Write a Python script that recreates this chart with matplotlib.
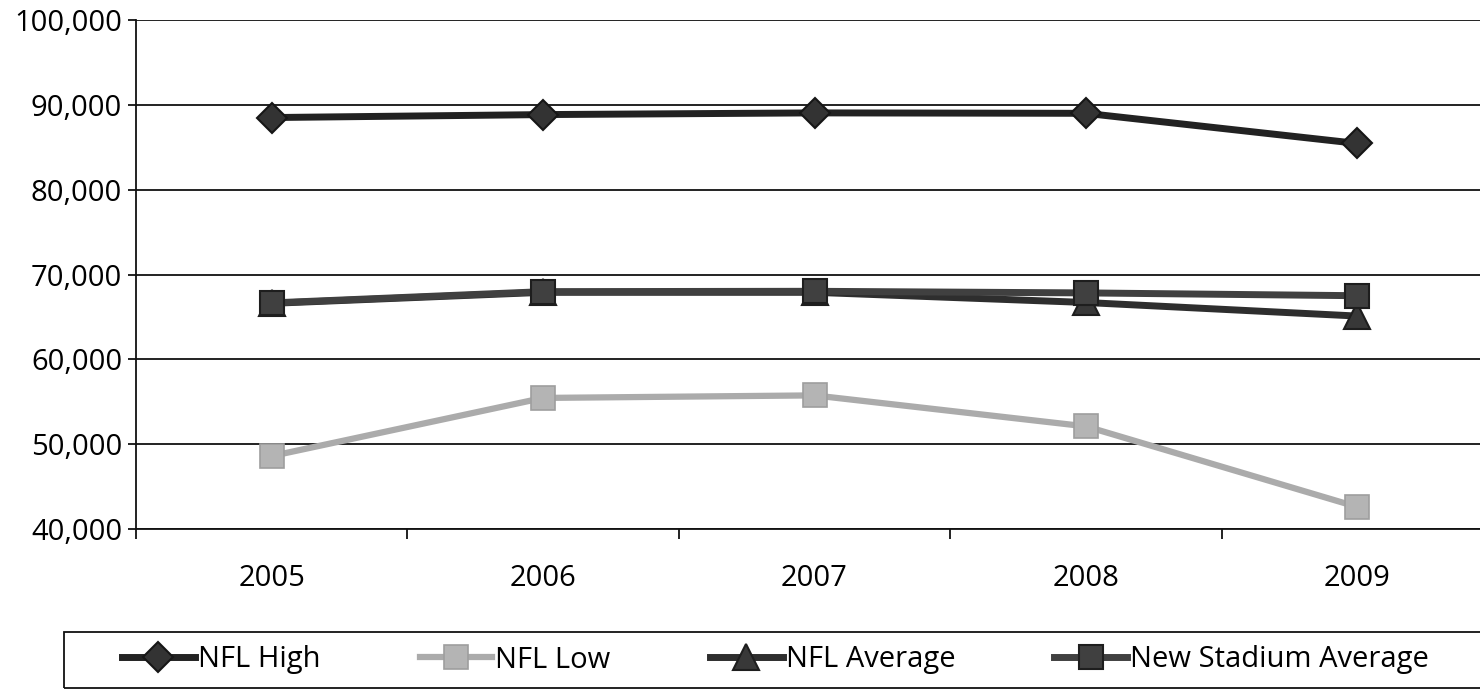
import matplotlib
matplotlib.use("Agg")
import matplotlib.pyplot as plt
from matplotlib.patches import Rectangle
from matplotlib.ticker import FuncFormatter, FixedLocator

# --- data ---
years = ["2005", "2006", "2007", "2008", "2009"]
nfl_high = [88500, 88850, 89050, 89000, 85450]
nfl_low = [48600, 55450, 55750, 52100, 42600]
nfl_average = [66600, 67900, 67900, 66700, 65100]
new_stadium_average = [66650, 67980, 68020, 67830, 67500]

plt.rcParams["font.family"] = ["Open Sans", "DejaVu Sans"]

fig = plt.figure(figsize=(14.8, 6.9), dpi=100)
ax = fig.add_axes([136 / 1480, 1 - 529 / 690, (1493 - 136) / 1480, (529 - 20) / 690])

x = list(range(len(years)))

ax.plot(x, nfl_high, color="#222222", lw=5, marker="D", ms=15,
        mfc="#333333", mec="#161616", mew=1.5, label="NFL High", zorder=4)
ax.plot(x, nfl_low, color="#ababab", lw=4.5, marker="s", ms=17,
        mfc="#b4b4b4", mec="#9e9e9e", mew=1.2, label="NFL Low", zorder=4)
ax.plot(x, nfl_average, color="#2e2e2e", lw=5, marker="^", ms=19,
        mfc="#383838", mec="#1e1e1e", mew=1.5, label="NFL Average", zorder=3)
ax.plot(x, new_stadium_average, color="#404040", lw=5, marker="s", ms=17,
        mfc="#404040", mec="#1e1e1e", mew=1.5, label="New Stadium Average", zorder=5)

ax.set_xlim(-0.5, len(years) - 0.5)
ax.set_ylim(40000, 100000)
ax.set_yticks(range(40000, 100001, 10000))
ax.yaxis.set_major_formatter(FuncFormatter(lambda v, p: f"{int(v):,}"))
ax.grid(axis="y", color="#111111", lw=1.3)
ax.set_axisbelow(True)

ax.set_xticks(x)
ax.set_xticklabels(years)
ax.xaxis.set_minor_locator(FixedLocator([i - 0.5 for i in range(len(years) + 1)]))
ax.tick_params(axis="x", which="major", length=0, pad=25, labelsize=21)
ax.tick_params(axis="x", which="minor", length=7, width=1.3, direction="out", color="#111111")
ax.tick_params(axis="y", length=6, width=1.3, pad=4, labelsize=21, color="#111111")

for side in ["top", "right"]:
    ax.spines[side].set_visible(False)
for side in ["left", "bottom"]:
    ax.spines[side].set_color("#111111")
    ax.spines[side].set_linewidth(1.3)

# legend box runs off the right edge like in the scan
fig.patches.append(Rectangle((64 / 1480, 2 / 690), 1.0, 56 / 690, transform=fig.transFigure,
                             fill=False, edgecolor="#111111", lw=1.3))
fig.legend(loc="center left", ncol=4, bbox_to_anchor=(122 / 1480, 1 - 660 / 690),
           fontsize=21, frameon=False, handlelength=2.5, handletextpad=0.1,
           columnspacing=3.4, borderpad=0, borderaxespad=0)

fig.savefig("out.png", dpi=100)
